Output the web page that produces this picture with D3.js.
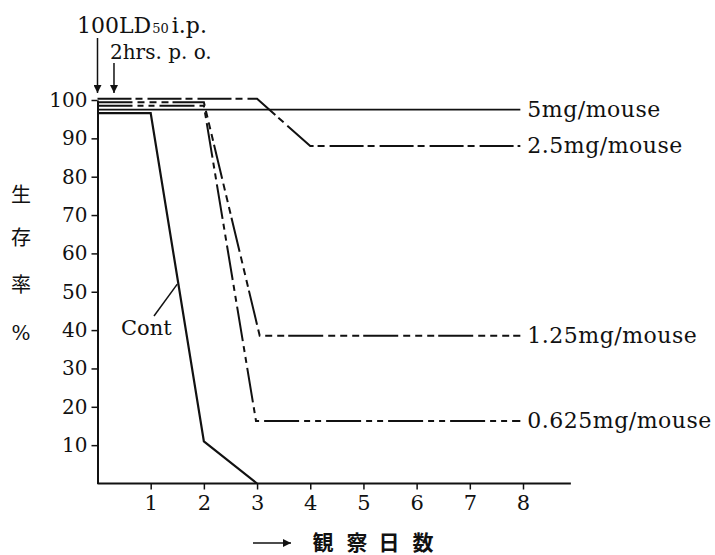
<!DOCTYPE html>
<html>
	<head>
		<meta charset="utf-8">
		<script src="https://cdn.jsdelivr.net/npm/d3@7/dist/d3.min.js"></script>
		<style>
			body { margin: 0; background: #fff; }
		</style>
	</head>
	<body> <svg width="715" height="555"></svg> </body>

	<script>
		var contDays = [0, 1, 2, 3],
			contSurv = [96.6, 96.6, 11, 0];
		var mg5Days = [0, 7.95],
			mg5Surv = [97.5, 97.5];
		var mg25Days = [0, 3, 4, 7.95],
			mg25Surv = [100.3, 100.3, 88, 88];
		var mg125Days = [0, 2, 3.05, 7.95],
			mg125Surv = [99.4, 99.4, 38.5, 38.5];
		var mg0625Days = [0, 2, 2.98, 7.95],
			mg0625Surv = [98.5, 98.5, 16.3, 16.3];

		var seriesNames = ["Cont", "5mg/mouse", "2.5mg/mouse", "1.25mg/mouse", "0.625mg/mouse"];
		var xTicks = [1, 2, 3, 4, 5, 6, 7, 8],
			yTicks = [10, 20, 30, 40, 50, 60, 70, 80, 90, 100];

		var svg = d3.select("svg");
		var serif = "'DejaVu Serif', serif",
			cjk = "'Noto Sans CJK JP', sans-serif",
			ink = "#111";

		var x = d3.scaleLinear().domain([0, 8]).range([97.5, 523]),
			y = d3.scaleLinear().domain([0, 100]).range([483.5, 100]);

		// arrow marker
		svg.append("defs").append("marker")
			.attr("id", "head")
			.attr("viewBox", "0 0 10 10")
			.attr("refX", 10).attr("refY", 5)
			.attr("markerWidth", 8).attr("markerHeight", 8)
			.attr("markerUnits", "userSpaceOnUse")
			.attr("orient", "auto")
			.append("path").attr("d", "M0,0 L10,5 L0,10 Z").attr("fill", ink);

		// Y axis
		var yAxis = svg.append("g")
			.attr("transform", "translate(" + x(0) + ",0)")
			.call(d3.axisLeft(y).tickValues(yTicks).tickSize(6).tickSizeOuter(0).tickPadding(4));
		yAxis.select(".domain").attr("stroke", ink).attr("stroke-width", 2);
		yAxis.selectAll(".tick line").attr("stroke", ink).attr("stroke-width", 1.5);
		yAxis.selectAll("text").attr("font-family", serif).attr("font-size", "20px").attr("fill", ink);

		// X axis
		var xAxis = svg.append("g")
			.attr("transform", "translate(0," + y(0) + ")")
			.call(d3.axisBottom(x).tickValues(xTicks).tickSize(6).tickSizeOuter(0).tickPadding(6));
		xAxis.select(".domain").remove();
		xAxis.append("line")
			.attr("x1", x(0)).attr("x2", x(8.9))
			.attr("stroke", ink).attr("stroke-width", 2);
		xAxis.selectAll(".tick line").attr("stroke", ink).attr("stroke-width", 1.5);
		xAxis.selectAll("text").attr("font-family", serif).attr("font-size", "21px").attr("fill", ink);

		// Lines
		var line = d3.line()
			.x(function(d) { return x(d[0]); })
			.y(function(d) { return y(d[1]); });

		var series = [
			{days: contDays, surv: contSurv, dash: null, w: 2.2},
			{days: mg5Days, surv: mg5Surv, dash: null, w: 1.6},
			{days: mg25Days, surv: mg25Surv, dash: "34,4,7,5", w: 2},
			{days: mg125Days, surv: mg125Surv, dash: "35,5,7,5,7,5,7,4", w: 2},
			{days: mg0625Days, surv: mg0625Surv, dash: "35,5,6,5,6,5", w: 2}
		];

		series.forEach(function(s, i) {
			var pts = d3.zip(s.days, s.surv);
			svg.append("path")
				.datum(pts)
				.attr("d", line)
				.attr("fill", "none")
				.attr("stroke", ink)
				.attr("stroke-width", s.w)
				.attr("stroke-dasharray", s.dash);
			if (i > 0) {
				var last = pts[pts.length - 1];
				svg.append("text")
					.text(seriesNames[i])
					.attr("x", x(last[0]) + 7)
					.attr("y", y(last[1]) + 7)
					.attr("font-family", serif)
					.attr("font-size", "22px")
					.attr("letter-spacing", "0.5px")
					.attr("fill", ink);
			}
		});

		// Cont label with leader line
		svg.append("line")
			.attr("x1", 154).attr("y1", 316)
			.attr("x2", x(1.5)).attr("y2", y(52))
			.attr("stroke", ink).attr("stroke-width", 1.5);
		svg.append("text")
			.text(seriesNames[0])
			.attr("x", 121).attr("y", 335)
			.attr("font-family", serif)
			.attr("font-size", "21px")
			.attr("fill", ink);

		// dosing annotations
		var ld = svg.append("text")
			.attr("x", 77).attr("y", 33)
			.attr("font-family", serif)
			.attr("font-size", "22px")
			.attr("fill", ink);
		ld.append("tspan").text("100LD");
		ld.append("tspan").text("50").attr("font-size", "13px").attr("dx", 1);
		ld.append("tspan").text("i.p.").attr("dx", 3);

		svg.append("text")
			.text("2hrs. p. o.")
			.attr("x", 110).attr("y", 59)
			.attr("font-family", serif)
			.attr("font-size", "20px")
			.attr("fill", ink);

		[[x(0), 38], [x(0.31), 63]].forEach(function(a) {
			svg.append("line")
				.attr("x1", a[0]).attr("x2", a[0])
				.attr("y1", a[1]).attr("y2", 93)
				.attr("stroke", ink).attr("stroke-width", 1.5)
				.attr("marker-end", "url(#head)");
		});

		// Y axis title, vertical
		["生", "存", "率", "%"].forEach(function(c, i) {
			svg.append("text")
				.text(c)
				.attr("x", 21).attr("y", [195, 238, 285, 333][i])
				.attr("dy", "0.35em")
				.attr("text-anchor", "middle")
				.attr("font-family", c == "%" ? serif : cjk)
				.attr("font-size", "20px")
				.attr("fill", ink);
		});

		// X axis title
		svg.append("line")
			.attr("x1", 253).attr("x2", 291)
			.attr("y1", 543).attr("y2", 543)
			.attr("stroke", ink).attr("stroke-width", 1.5)
			.attr("marker-end", "url(#head)");
		["観", "察", "日", "数"].forEach(function(c, i) {
			svg.append("text")
				.text(c)
				.attr("x", [323, 357, 389, 423][i]).attr("y", 543)
				.attr("dy", "0.35em")
				.attr("text-anchor", "middle")
				.attr("font-family", cjk)
				.attr("font-weight", "bold")
				.attr("font-size", "21px")
				.attr("fill", ink);
		});
	</script>
</html>
